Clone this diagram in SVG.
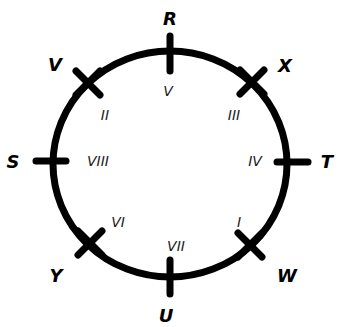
<svg xmlns="http://www.w3.org/2000/svg" width="337" height="327" viewBox="0 0 337 327">
<style>
.ring{fill:none;stroke:#000;stroke-width:7}
.tick{stroke:#000;stroke-width:7;stroke-linecap:round}
.out{font-family:"DejaVu Sans",sans-serif;font-style:oblique;font-weight:bold;font-size:18px;text-anchor:middle;fill:#000}
.in{font-family:"DejaVu Sans",sans-serif;font-style:oblique;font-size:14px;text-anchor:middle;fill:#222}
</style>
<rect width="337" height="327" fill="#fff"/>
<g id="connectors">
<ellipse class="ring" cx="170" cy="164" rx="117" ry="113"/>
</g>
<g id="node-R"><line class="tick" x1="170" y1="36" x2="170" y2="71"/><text class="out" x="170" y="25">R</text></g>
<g id="node-U"><line class="tick" x1="170" y1="260" x2="170" y2="294"/><text class="out" x="166" y="322">U</text></g>
<g id="node-S"><line class="tick" x1="36" y1="161" x2="66" y2="161"/><text class="out" x="13" y="168">S</text></g>
<g id="node-T"><line class="tick" x1="277" y1="162" x2="308" y2="162"/><text class="out" x="327" y="168">T</text></g>
<g id="node-V"><line class="tick" x1="76" y1="71" x2="100" y2="95"/><line class="tick" x1="76" y1="95" x2="100" y2="71"/><text class="out" x="55" y="71">V</text></g>
<g id="node-X"><line class="tick" x1="240" y1="70" x2="264" y2="94"/><line class="tick" x1="240" y1="94" x2="264" y2="70"/><text class="out" x="285" y="72">X</text></g>
<g id="node-Y"><line class="tick" x1="78" y1="231" x2="102" y2="255"/><line class="tick" x1="78" y1="255" x2="102" y2="231"/><text class="out" x="56" y="282">Y</text></g>
<g id="node-W"><line class="tick" x1="238" y1="233" x2="262" y2="257"/><line class="tick" x1="238" y1="257" x2="262" y2="233"/><text class="out" x="287" y="282">W</text></g>
<g id="labels">
<text class="in" x="168" y="96">V</text>
<text class="in" x="105" y="120">II</text>
<text class="in" x="234" y="120">III</text>
<text class="in" x="98" y="166">VIII</text>
<text class="in" x="255" y="166">IV</text>
<text class="in" x="118" y="227">VI</text>
<text class="in" x="239" y="227">I</text>
<text class="in" x="176" y="251">VII</text>
</g>
</svg>
